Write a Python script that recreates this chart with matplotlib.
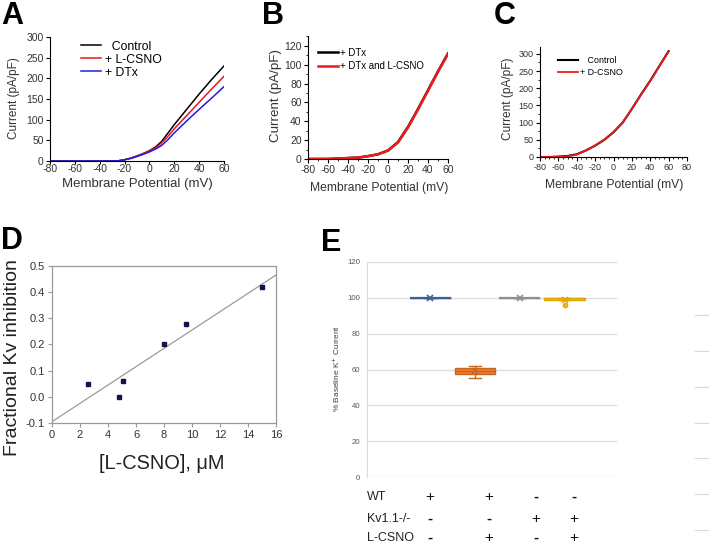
import numpy as np
import matplotlib.pyplot as plt
from matplotlib.ticker import MultipleLocator, FormatStrFormatter

plt.rcParams['font.family'] = ['Liberation Sans', 'DejaVu Sans']
plt.rcParams['axes.unicode_minus'] = False

W, H = 710, 549

# ---- panel A data
va = [-80, -70, -60, -50, -40, -30, -25, -20, -15, -10, -5, 0, 5, 10, 15, 20, 30, 40, 50, 60]
a_ctrl = [0, 0, 0, 0, 0, 0, 0.5, 3, 7, 12, 18, 25, 34, 48, 68, 88, 125, 162, 197, 230]
a_lcsno = [0, 0, 0, 0, 0, 0, 0.5, 3, 7, 12, 18, 24, 32, 44, 60, 78, 110, 142, 174, 205]
a_dtx = [0, 0, 0, 0, 0, 0, 0.5, 3, 6, 11, 16, 22, 29, 38, 52, 68, 97, 125, 152, 180]

# ---- panel B data
vb = [-80, -70, -60, -50, -40, -30, -20, -10, 0, 10, 20, 30, 40, 50, 60]
b_dtx = [0, 0, 0, 0.5, 1, 1.5, 3, 5, 9, 18, 34, 53, 73, 93, 112]
b_dtx_l = [0, 0, 0, 0.5, 1, 1.5, 3, 5, 9, 17.5, 33.5, 52.5, 72.5, 92.5, 111.5]

# ---- panel C data
vc = [-80, -70, -60, -50, -40, -30, -20, -10, 0, 10, 20, 30, 40, 50, 60]
c_ctrl = [0, 0, 1, 3, 8, 19, 33, 50, 72, 100, 140, 182, 222, 265, 308]
c_dcsno = [0, 0, 1, 2, 7, 19, 34, 51, 73, 101, 140, 181, 221, 264, 307]

# ---- panel D data
d_conc = [2.6, 4.8, 5.1, 8.0, 9.6, 15.0]
d_inhib = [0.05, 0.0, 0.06, 0.20, 0.28, 0.42]

# ---- panel E data
e_wt = [100, 100, 100, 100]
e_wt_l = [55.3, 57.5, 59.2, 61.0, 62.0]
e_kv = [100, 100, 100, 100]
e_kv_l = [96.0, 98.6, 99.5, 100, 100, 100]
e_colors = ['#4a6fa8', '#ED7D31', '#A5A5A5', '#FFC000']
e_edges = ['#3b5f99', '#c8651f', '#8f8f8f', '#e0a800']
row_names = ['WT', 'Kv1.1-/-', 'L-CSNO']
row_wt = ['+', '+', '-', '-']
row_kv = ['-', '-', '+', '+']
row_lcsno = ['-', '+', '-', '+']


def box(l, t, r, b):
    return [l / W, 1 - b / H, (r - l) / W, (b - t) / H]


def fx(x):
    return x / W


def fy(y):
    return 1 - y / H


fig = plt.figure(figsize=(W / 100, H / 100), dpi=100)
tc = '#333333'


def iv_style(ax):
    for s in ['top', 'right']:
        ax.spines[s].set_visible(False)
    ax.tick_params(direction='out', length=3, width=0.8, labelsize=7.5, colors='black',
                   labelcolor=tc, pad=1.5)
    ax.tick_params(which='minor', direction='out', length=1.5, width=0.6)


# ---- A
axA = fig.add_axes(box(50, 37, 224, 161))
axA.plot(va, a_ctrl, color='black', lw=1.1, label='  Control')
axA.plot(va, a_lcsno, color='#e8161b', lw=1.1, label='+ L-CSNO')
axA.plot(va, a_dtx, color='#1c1ce6', lw=1.1, label='+ DTx')
axA.set_xlim(-80, 60)
axA.set_ylim(0, 300)
axA.xaxis.set_major_locator(MultipleLocator(20))
axA.yaxis.set_major_locator(MultipleLocator(50))
iv_style(axA)
axA.tick_params(axis='x', length=2, pad=0.5)
axA.set_xlabel('Membrane Potential (mV)', fontsize=9.5, color=tc)
axA.set_ylabel('Current (pA/pF)', fontsize=8.5, color=tc)
axA.xaxis.set_label_coords(fx(137), fy(178), transform=fig.transFigure)
axA.yaxis.set_label_coords(fx(20), fy(98), transform=fig.transFigure)
axA.legend(loc='upper left', bbox_to_anchor=(0.178, 0.97), frameon=False, fontsize=8.8,
           handlelength=1.6, handletextpad=0.35, labelspacing=0.08, borderpad=0, borderaxespad=0)

# ---- B
axB = fig.add_axes(box(308, 36.5, 448, 159))
axB.plot(vb, b_dtx, color='black', lw=1.8, label='+ DTx')
axB.plot(vb, b_dtx_l, color='#ee1c1c', lw=1.8, label='+ DTx and L-CSNO')
axB.set_xlim(-80, 60)
axB.set_ylim(0, 130)
axB.xaxis.set_major_locator(MultipleLocator(20))
axB.xaxis.set_minor_locator(MultipleLocator(10))
axB.yaxis.set_major_locator(MultipleLocator(20))
axB.yaxis.set_minor_locator(MultipleLocator(10))
axB.set_yticks(range(0, 121, 20))
iv_style(axB)
axB.set_xlabel('Membrane Potential (mV)', fontsize=8.75, color=tc)
axB.set_ylabel('Current (pA/pF)', fontsize=9.6, color=tc)
axB.xaxis.set_label_coords(fx(379), fy(182), transform=fig.transFigure)
axB.yaxis.set_label_coords(fx(282), fy(96), transform=fig.transFigure)
axB.legend(loc='upper left', bbox_to_anchor=(0.071, 0.91), frameon=False, fontsize=6.9,
           handlelength=2.1, handletextpad=0.15, labelspacing=0.35, borderpad=0, borderaxespad=0)

# ---- C
axC = fig.add_axes(box(540, 47, 687, 157))
axC.plot(vc, c_ctrl, color='black', lw=1.5, label='   Control')
axC.plot(vc, c_dcsno, color='#ee1c1c', lw=1.3, label='+ D-CSNO')
axC.set_xlim(-80, 80)
axC.set_ylim(0, 320)
axC.xaxis.set_major_locator(MultipleLocator(20))
axC.xaxis.set_minor_locator(MultipleLocator(5))
axC.yaxis.set_major_locator(MultipleLocator(50))
axC.yaxis.set_minor_locator(MultipleLocator(25))
axC.set_yticks(range(0, 301, 50))
iv_style(axC)
axC.tick_params(labelsize=6.5)
axC.set_xlabel('Membrane Potential (mV)', fontsize=8.75, color=tc)
axC.set_ylabel('Current (pA/pF)', fontsize=8.6, color=tc)
axC.xaxis.set_label_coords(fx(614), fy(179), transform=fig.transFigure)
axC.yaxis.set_label_coords(fx(514), fy(99), transform=fig.transFigure)
axC.legend(loc='upper left', bbox_to_anchor=(0.122, 0.915), frameon=False, fontsize=6.4,
           handlelength=2.3, handletextpad=0.2, labelspacing=0.35, borderpad=0, borderaxespad=0)

# ---- D
axD = fig.add_axes(box(52, 266, 276, 423))
slope, icpt = np.polyfit(d_conc, d_inhib, 1)
xl = np.array([0, 16])
axD.plot(xl, slope * xl + icpt, color='#9a9a9a', lw=0.9)
axD.plot(d_conc, d_inhib, 's', color='#14144a', ms=2.8)
axD.set_xlim(0, 16)
axD.set_ylim(-0.1, 0.5)
axD.xaxis.set_major_locator(MultipleLocator(2))
axD.yaxis.set_major_locator(MultipleLocator(0.1))
axD.yaxis.set_major_formatter(FormatStrFormatter('%.1f'))
for s in axD.spines.values():
    s.set_color('#9a9a9a')
    s.set_linewidth(0.9)
axD.tick_params(direction='out', length=3, width=0.8, colors='#9a9a9a', labelcolor=tc,
                labelsize=8, pad=2)
axD.set_xlabel('[L-CSNO], \u03bcM', fontsize=14.4, color='#222222')
axD.set_ylabel('Fractional Kv inhibition', fontsize=14, color='#222222')
axD.xaxis.set_label_coords(fx(162), fy(454), transform=fig.transFigure)
axD.yaxis.set_label_coords(fx(21), fy(358), transform=fig.transFigure)

# ---- E
axE = fig.add_axes(box(367, 262, 617, 477))
groups = [e_wt, e_wt_l, e_kv, e_kv_l]
for i, g in enumerate(groups):
    fc, ec = e_colors[i], e_edges[i]
    axE.boxplot([g], positions=[i + 1], widths=0.91, patch_artist=True, showmeans=True,
                capwidths=0.25, manage_ticks=False,
                boxprops=dict(facecolor=fc, edgecolor=ec, linewidth=1.6 if i in (0, 2) else 1.0),
                whiskerprops=dict(color=ec, linewidth=1.0),
                capprops=dict(color=ec, linewidth=1.0),
                medianprops=dict(color=ec, linewidth=1.0),
                meanprops=dict(marker='x', markeredgecolor=ec, markersize=5, markeredgewidth=1.2),
                flierprops=dict(marker='o', markerfacecolor=fc, markeredgecolor=ec, markersize=3))
axE.set_xlim(-0.411, 5.167)
axE.set_ylim(0, 120)
axE.set_yticks(range(0, 121, 20))
axE.set_xticks([])
axE.yaxis.grid(True, color='#dcdcdc', linewidth=0.9)
axE.set_axisbelow(True)
for s in ['top', 'right', 'bottom']:
    axE.spines[s].set_visible(False)
axE.spines['left'].set_color('#dcdcdc')
axE.tick_params(axis='y', length=0, labelsize=5.6, labelcolor='#595959', pad=5)
axE.set_ylabel('% Baseline K$^{+}$ Current', fontsize=6, color='#404040')
axE.yaxis.set_label_coords(fx(342), fy(368), transform=fig.transFigure)

# table under E
col_x = [430, 489, 536, 574]
row_y = [497, 519, 538]
for name, signs, y in zip(row_names, [row_wt, row_kv, row_lcsno], row_y):
    fig.text(fx(367), fy(y), name, fontsize=9, color='#222222', va='center', ha='left')
    for s, x in zip(signs, col_x):
        fig.text(fx(x), fy(y), s, fontsize=11, color='#111111',
                 va='center', ha='center', weight='bold' if s == '-' else 'normal')

# stray tick marks at the right edge
for y in [315, 351, 387, 423, 458, 494, 530]:
    fig.add_artist(plt.Line2D([fx(695), fx(708)], [fy(y), fy(y)], color='#d8d8d8', lw=0.8))

# panel letters
for letter, x, y in [('A', 1, 1), ('B', 262, 1), ('C', 494, 1), ('D', 1, 226), ('E', 321, 228)]:
    fig.text(fx(x), fy(y), letter, fontsize=22, weight='bold', va='top', ha='left')

fig.savefig('out.png', dpi=100)
